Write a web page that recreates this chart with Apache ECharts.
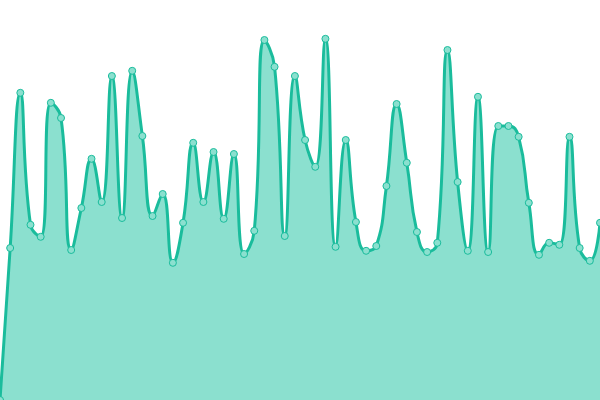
<!DOCTYPE html>
<html lang="en">
<head>
    <meta charset="UTF-8">
    <title>area</title>
    <script src="https://cdn.jsdelivr.net/npm/echarts@6/dist/echarts.min.js"></script>
    <style>
        html, body { margin: 0; padding: 0; background: #fff; }
    </style>
</head>
<body>
    <div id="main" style="width: 600px;height:400px;"></div>
    <script type="text/javascript">
        // 数据
        var values = [0, 38, 76.8, 43.8, 40.8, 74.3, 70.5, 37.5, 48, 60.3,
            49.5, 81, 45.5, 82.3, 66, 46, 51.5, 34.3, 44.3, 64.3,
            49.5, 62, 45.3, 61.5, 36.5, 42.3, 90, 83.3, 41, 81,
            65, 58.3, 90.3, 38.3, 65, 44.5, 37.3, 38.5, 53.5, 74,
            59.3, 42, 37, 39.3, 87.5, 54.5, 37.3, 75.8, 37, 68.5,
            68.5, 65.8, 49.3, 36.3, 39.3, 38.8, 65.8, 38, 34.8, 44.3];
        var categories = values.map(function (v, i) { return String(i); });

        var myChart = echarts.init(document.getElementById('main'));
        var option = {
            animation: false,
            grid: { left: 0, right: 0, top: 0, bottom: 0 },
            xAxis: {
                type: 'category',
                boundaryGap: false,
                data: categories,
                show: false
            },
            yAxis: {
                type: 'value',
                min: 0,
                max: 100,
                show: false
            },
            series: [
                {
                    type: 'line',
                    data: values,
                    smooth: true,
                    symbol: 'circle',
                    symbolSize: 7,
                    showAllSymbol: true,
                    lineStyle: { color: '#1abc9c', width: 3 },
                    itemStyle: { color: '#8be0cf', borderColor: '#1abc9c', borderWidth: 1 },
                    areaStyle: { color: '#8be0cf', opacity: 1 }
                }
            ]
        };
        myChart.setOption(option);
    </script>
</body>
</html>
